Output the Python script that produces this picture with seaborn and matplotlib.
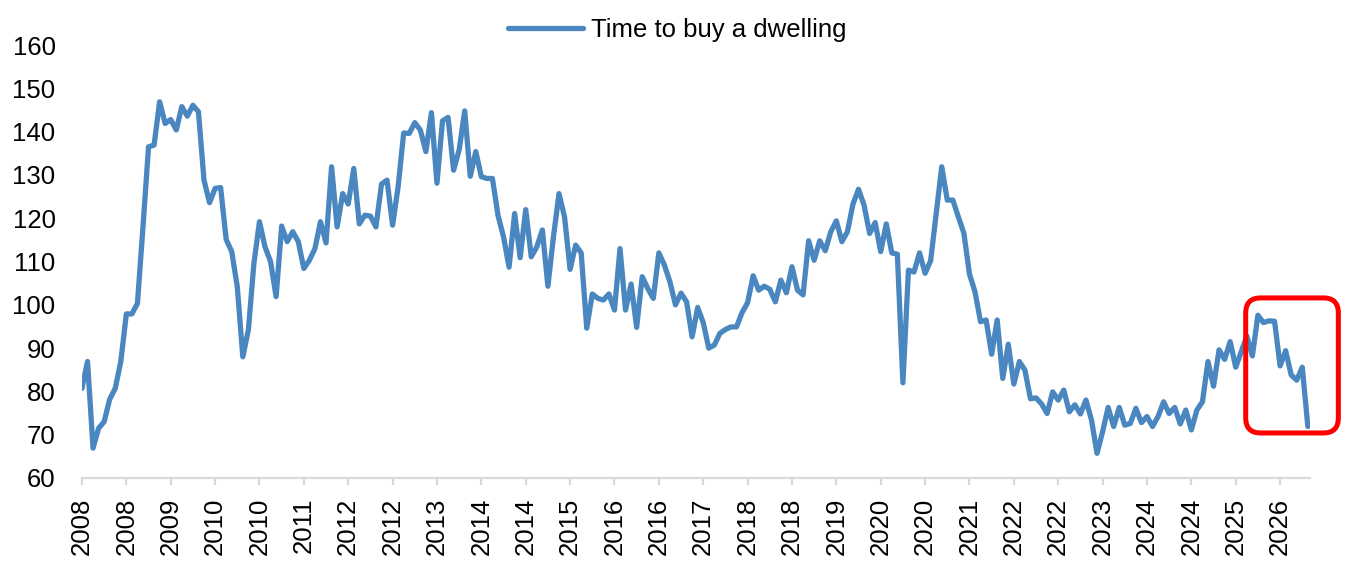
import pandas as pd
import seaborn as sns
import matplotlib.pyplot as plt
import numpy as np
from matplotlib.patches import FancyBboxPatch

# monthly series (starts Jan 2008)
values = [80.7, 86.9, 66.9, 71.5, 73.0, 78.2, 80.7, 86.9, 97.9, 97.9,
          100.3, 118.0, 136.5, 136.9, 146.9, 141.9, 142.8, 140.4, 145.8, 143.6,
          146.1, 144.6, 128.8, 123.6, 126.9, 127.1, 115.1, 112.3, 104.2, 88.0,
          94.2, 109.6, 119.2, 113.4, 110.0, 101.9, 118.2, 114.6, 116.9, 114.6,
          108.4, 110.3, 113.0, 119.2, 114.3, 131.9, 118.0, 125.7, 123.3, 131.5,
          118.7, 120.7, 120.5, 118.0, 127.9, 128.8, 118.4, 127.3, 139.7, 139.6,
          142.1, 140.4, 135.4, 144.4, 128.1, 142.5, 143.3, 131.1, 135.8, 144.8,
          129.7, 135.4, 129.6, 129.2, 129.2, 120.7, 115.7, 108.7, 121.1, 110.9,
          122.0, 111.1, 113.4, 117.3, 104.3, 115.7, 125.7, 120.3, 108.2, 113.8,
          112.0, 94.6, 102.5, 101.5, 101.1, 102.5, 98.8, 113.0, 98.8, 104.8,
          94.8, 106.5, 103.8, 101.5, 112.0, 109.2, 105.3, 100.0, 102.7, 100.7,
          92.6, 99.4, 95.9, 90.0, 90.7, 93.4, 94.3, 94.9, 94.9, 98.2,
          100.5, 106.7, 103.4, 104.3, 103.6, 100.7, 105.7, 102.8, 108.8, 103.4,
          102.3, 114.8, 110.3, 114.8, 112.5, 116.9, 119.4, 114.6, 116.9, 123.3,
          126.7, 123.0, 116.5, 119.0, 112.3, 118.7, 112.0, 111.7, 82.0, 108.0,
          107.6, 112.0, 107.3, 110.2, 121.1, 131.9, 124.2, 124.2, 120.3, 116.5,
          107.1, 103.0, 96.1, 96.5, 88.6, 96.5, 83.0, 90.9, 81.7, 86.9,
          84.9, 78.3, 78.5, 77.1, 74.9, 79.9, 78.0, 80.3, 75.3, 76.9,
          74.8, 78.0, 73.4, 65.7, 70.7, 76.3, 71.9, 76.3, 72.2, 72.6,
          76.1, 72.8, 74.2, 71.9, 74.2, 77.6, 74.9, 76.3, 72.5, 75.7,
          71.1, 75.7, 77.6, 86.9, 81.2, 89.6, 87.4, 91.5, 85.6, 89.2,
          92.8, 88.2, 97.6, 95.9, 96.3, 96.2, 85.9, 89.4, 83.8, 82.6,
          85.6, 71.9]
dates = pd.date_range('2008-01-01', periods=len(values), freq='MS')
series_name = 'Time to buy a dwelling'
highlight_last = 12   # months inside the red box

df = pd.DataFrame({'idx': np.arange(len(values)), 'value': values})

sns.set_style('white')
plt.rcParams['font.family'] = ['Liberation Sans', 'DejaVu Sans']
plt.rcParams['text.color'] = 'black'
plt.rcParams['xtick.labelcolor'] = 'black'
plt.rcParams['ytick.labelcolor'] = 'black'

fig = plt.figure(figsize=(13.57, 5.64), dpi=100)
ax = fig.add_axes([0.0604, 0.1525, 0.905, 0.7675])

sns.lineplot(data=df, x='idx', y='value', ax=ax, color='#4A86BF', linewidth=3.8,
             label=series_name, legend=False)

ax.set_xlim(0, len(values) - 0.6)
ax.set_ylim(60, 160)
ax.set_yticks(np.arange(60, 161, 10))
ax.set_xticks(df['idx'][::8])
ax.set_xticklabels(dates[::8].year, rotation=90)
ax.set_xlabel('')
ax.set_ylabel('')

for s in ['top', 'right', 'left']:
    ax.spines[s].set_visible(False)
ax.spines['bottom'].set_color('#D9D9D9')
ax.spines['bottom'].set_linewidth(1.6)
ax.tick_params(axis='y', length=0, pad=19, labelsize=18.5)
ax.tick_params(axis='x', length=5, width=1.6, color='#D9D9D9', pad=9, labelsize=18.5,
               direction='out', bottom=True)

# red rounded box round the last months
x0 = df['idx'].iloc[-highlight_last] - 0.2
x1 = df['idx'].iloc[-1] + 5.5
y0 = min(values[-highlight_last:]) - 1.5
y1 = max(values[-highlight_last:]) + 4.0
box = FancyBboxPatch((x0, y0), x1 - x0, y1 - y0,
                     boxstyle='round,pad=0,rounding_size=2.7', mutation_aspect=1.28,
                     facecolor='none', edgecolor='#FF0000', linewidth=3.6,
                     clip_on=False, zorder=5)
ax.add_patch(box)

handles, labels = ax.get_legend_handles_labels()
fig.legend(handles, labels, loc='center', bbox_to_anchor=(0.499, 0.947), frameon=False,
           fontsize=18.5, handlelength=2.9, handletextpad=0.3)

plt.savefig('out.png', dpi=100)
